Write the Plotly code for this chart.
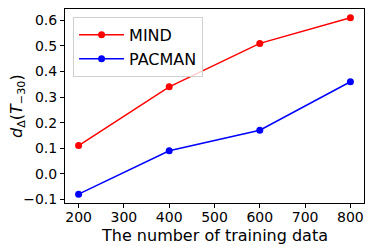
import plotly.graph_objects as go

x_vals = [200, 400, 600, 800]
mind = [0.11, 0.34, 0.51, 0.61]
pacman = [-0.08, 0.09, 0.17, 0.36]
x_ticks = [200, 300, 400, 500, 600, 700, 800]
y_ticks = [-0.1, 0.0, 0.1, 0.2, 0.3, 0.4, 0.5, 0.6]

fig = go.Figure()
fig.add_trace(go.Scatter(x=x_vals, y=mind, mode="lines+markers", name="MIND",
                         line=dict(color="red", width=1.5), marker=dict(color="red", size=7)))
fig.add_trace(go.Scatter(x=x_vals, y=pacman, mode="lines+markers", name="PACMAN",
                         line=dict(color="blue", width=1.5), marker=dict(color="blue", size=7)))

font = "DejaVu Sans"
# page body has an 8px default margin, so the figure is offset by (8, 8)
fig.update_layout(
    width=366, height=241,
    margin=dict(l=57, r=10, t=1, b=46),
    plot_bgcolor="white", paper_bgcolor="white",
    font=dict(family=font, color="black", size=14),
    legend=dict(x=0.027, y=0.959, xanchor="left", yanchor="top",
                bgcolor="rgba(255,255,255,0.8)", bordercolor="#d0d0d0", borderwidth=1,
                font=dict(size=16), itemwidth=45, tracegroupgap=0),
    xaxis=dict(range=[170, 830], tickvals=x_ticks, ticks="outside", ticklen=4,
               tickcolor="black", showgrid=False, zeroline=False, ticklabelstandoff=-3,
               showline=True, linecolor="black", mirror=True, linewidth=1),
    yaxis=dict(range=[-0.1145, 0.6445], tickvals=y_ticks, tickformat=".1f",
               ticks="outside", ticklen=4, tickcolor="black", showgrid=False, zeroline=False,
               showline=True, linecolor="black", mirror=True, linewidth=1),
    annotations=[
        dict(text="The number of training data", xref="paper", yref="paper",
             x=0.5, y=0, yshift=-21, xanchor="center", yanchor="top",
             showarrow=False, font=dict(size=16)),
        dict(text="<i>d</i><sub>Δ</sub>(<i>T</i><sub>−30</sub>)", xref="paper", yref="paper",
             x=0, y=0.5, xshift=-48, xanchor="center", yanchor="middle", textangle=-90,
             showarrow=False, font=dict(size=16)),
    ],
)
fig.write_html("out.html")
